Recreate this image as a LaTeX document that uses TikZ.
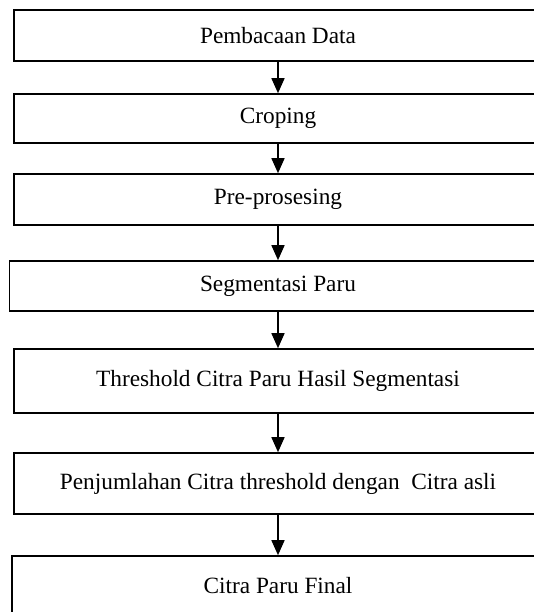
\documentclass[tikz,border=0pt]{standalone}
\usepackage{fontspec}
\setmainfont{Liberation Serif}
\usetikzlibrary{arrows.meta}

\begin{document}
\begin{tikzpicture}[x=1pt,y=-1pt,line width=1.6pt,
  stepbox/.style={draw,rectangle,inner sep=0pt,minimum width=528pt,font=\fontsize{23.3}{28}\selectfont},
  flow/.style={-{Triangle[length=15pt,width=13pt]},line width=1.5pt}]
\path[use as bounding box] (0,0) rectangle (534,612);
\clip (0,0) rectangle (534,612);
\node[stepbox,minimum height=51pt] (baca) at (278,35.5) {Pembacaan Data};
\node[stepbox,minimum height=49pt] (crop) at (278,118.5) {Croping};
\node[stepbox,minimum height=51pt] (prep) at (278,199.5) {Pre-prosesing};
\node[stepbox,minimum height=50pt,minimum width=537pt] (segm) at (278,286) {Segmentasi Paru};
\node[stepbox,minimum height=64pt] (thrs) at (278,381) {Threshold Citra Paru Hasil Segmentasi};
\node[stepbox,minimum height=61pt] (jmlh) at (278,483.5) {Penjumlahan Citra threshold dengan \ Citra asli};
\node[stepbox,minimum height=60pt,minimum width=532pt] (final) at (278,586) {Citra Paru Final};
\draw[flow] (baca) -- (crop);
\draw[flow] (crop) -- (prep);
\draw[flow] (prep) -- (segm);
\draw[flow] (segm) -- (thrs);
\draw[flow] (thrs) -- (jmlh);
\draw[flow] (jmlh) -- (final);
\end{tikzpicture}
\end{document}
